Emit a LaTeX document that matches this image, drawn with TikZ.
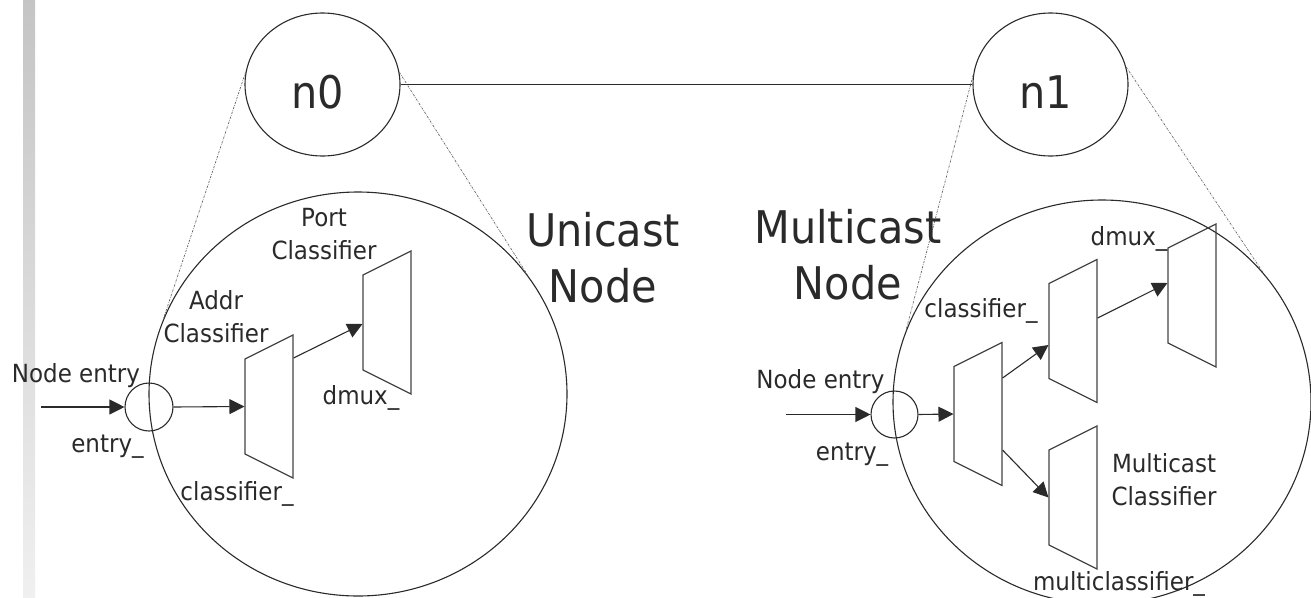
\documentclass[tikz,border=0pt]{standalone}
\usepackage{fontspec}
\setmainfont{DejaVu Sans}[FakeStretch=0.92]
\usetikzlibrary{arrows.meta,shapes.geometric,calc}
\definecolor{ink}{HTML}{2A2A2A}
\definecolor{muxc}{HTML}{444444}
\begin{document}
\begin{tikzpicture}[x=1pt,y=-1pt,
  line width=1.1pt, draw=ink,
  lbl/.style={text=ink, inner sep=0pt, anchor=base, align=center,
    font=\fontsize{25}{32.5}\selectfont},
  big/.style={text=ink, inner sep=0pt, anchor=base, align=center,
    font=\fontsize{45}{56}\selectfont},
  oval/.style={ellipse, draw=ink, line width=1.1pt, inner sep=0pt},
  zoomline/.style={draw=black!60, line width=0.7pt,
    dash pattern=on 2.2pt off 1.2pt on 0.6pt off 1.2pt},
  flow/.style={draw=ink, line width=1.1pt, -{Triangle[length=15pt,width=15pt]}},
  muxline/.style={draw=muxc, line width=1.2pt, line join=miter}
]
\useasboundingbox (0,0) rectangle (1311,597);
% gray side bar
\shade[top color=black!23, bottom color=black!6] (23,0) rectangle (35,597);

\newcommand\muxbox[3]{%
  \node[inner sep=0pt, minimum width=48pt, minimum height=143pt] (#1) at (#2+24,#3) {};
  \draw[muxline] (#2,#3-47.5) -- (#2,#3+47.5) -- (#2+48,#3+71.5) -- (#2+48,#3-71.5) -- cycle;
}

% top nodes
\node[oval, minimum width=155pt, minimum height=143pt] (n0) at (322.5,84.5) {};
\node[oval, minimum width=155pt, minimum height=143pt] (n1) at (1050.5,84.5) {};
\node[big] (n0t) at (318,108) {n0};
\node[big] (n1t) at (1046,108) {n1};
\draw[ink, line width=1.1pt] (n0.east) -- (n1.west);

% zoom circles
\node[oval, minimum width=418pt, minimum height=404pt] (u0) at (358,394) {};
\node[oval, minimum width=418pt, minimum height=404pt] (u1) at (1102,402) {};

\draw[zoomline] (n0.171) -- (u0.159);
\draw[zoomline] (n0.9) -- (u0.35);
\draw[zoomline] (n1.173) -- (u1.160);
\draw[zoomline] (n1.13) -- (u1.39);

% big labels
\node[big] (uni) at (603,302) {Unicast\\Node};
\node[big] (multi) at (848,299) {Multicast\\Node};

% ---------- unicast node ----------
\node[circle, draw=ink, line width=1.1pt, minimum size=48pt, inner sep=0pt] (e0) at (149,407) {};
\coordinate (in0) at (41,407);
\muxbox{c0}{245}{406.5}
\muxbox{d0}{363}{322.5}
\draw[flow] (in0) -- (e0.west);
\draw[flow] (e0.east) -- (c0.west);
\draw[flow] ($(c0.east)+(0,-48.5)$) -- ($(d0.west)+(0,1.5)$);

\node[lbl] (ne0) at (76,382) {Node entry};
\node[lbl] (en0) at (107.5,452) {entry\_};
\node[lbl] (cl0) at (237,500) {classifier\_};
\node[lbl] (dm0) at (361,404) {dmux\_};
\node[lbl] (ac0) at (216,342) {Addr\\Classifier};
\node[lbl] (pc0) at (324,259) {Port\\Classifier};

% ---------- multicast node ----------
\node[circle, draw=ink, line width=1.1pt, minimum size=47pt, inner sep=0pt] (e1) at (894.5,414.5) {};
\coordinate (in1) at (786,414.5);
\muxbox{ma}{954}{414}
\muxbox{mb}{1049}{331}
\muxbox{mc}{1168}{295.5}
\muxbox{md}{1049}{497.5}
\draw[flow] (in1) -- (e1.west);
\draw[flow] (e1.east) -- (ma.west);
\draw[flow] ($(ma.east)+(0,-36)$) -- ($(mb.west)+(0,14)$);
\draw[flow] ($(mb.east)+(0,-13)$) -- ($(mc.west)+(0,-12.5)$);
\draw[flow] ($(ma.east)+(0,36)$) -- ($(md.west)+(0,0)$);

\node[lbl] (ne1) at (820.5,388) {Node entry};
\node[lbl] (en1) at (852,460) {entry\_};
\node[lbl] (cl1) at (981,317) {classifier\_};
\node[lbl] (dm1) at (1129,245) {dmux\_};
\node[lbl] (mcl) at (1164,505) {Multicast\\Classifier};
\node[lbl] (mcl2) at (1119,590) {multiclassifier\_};
\end{tikzpicture}
\end{document}
